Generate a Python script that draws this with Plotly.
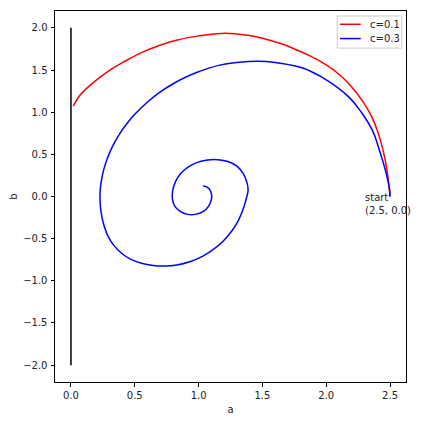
import plotly.graph_objects as go

# trajectories (a, b), starting at (2.5, 0)
red_a = [2.5, 2.492, 2.474, 2.445, 2.403, 2.355, 2.29, 2.2, 2.1, 2.0, 1.869, 1.75,
         1.66, 1.5, 1.4, 1.3, 1.18, 1.0, 0.826, 0.7, 0.565, 0.43, 0.305, 0.2,
         0.123, 0.07, 0.018]
red_b = [0.0, 0.12, 0.33, 0.55, 0.77, 0.95, 1.12, 1.30, 1.45, 1.56, 1.67, 1.75,
         1.805, 1.878, 1.91, 1.928, 1.934, 1.905, 1.854, 1.795, 1.716, 1.61, 1.499,
         1.38, 1.282, 1.20, 1.072]

blue_a = [2.5, 2.497, 2.463, 2.416, 2.36, 2.27, 2.17, 2.025, 1.869, 1.79, 1.6,
          1.47, 1.3, 1.165, 1.0, 0.905, 0.8, 0.7, 0.6, 0.5, 0.448, 0.39, 0.344,
          0.305, 0.272, 0.245, 0.23, 0.227, 0.231, 0.242, 0.262, 0.292, 0.336,
          0.396, 0.47, 0.553, 0.645, 0.735, 0.83, 0.93, 1.03, 1.113, 1.19, 1.26,
          1.31, 1.35, 1.378, 1.388, 1.378, 1.35, 1.30, 1.23, 1.15, 1.07, 0.99,
          0.92, 0.862, 0.82, 0.797, 0.795, 0.812, 0.855, 0.915, 0.975, 1.035,
          1.08, 1.102, 1.095, 1.07, 1.035]
blue_b = [0.0, 0.08, 0.314, 0.551, 0.79, 1.01, 1.19, 1.36, 1.491, 1.535, 1.59,
          1.605, 1.59, 1.558, 1.48, 1.42, 1.337, 1.24, 1.121, 0.975, 0.884, 0.763,
          0.647, 0.526, 0.396, 0.243, 0.09, 0.0, -0.12, -0.239, -0.36, -0.476,
          -0.58, -0.673, -0.745, -0.791, -0.817, -0.825, -0.812, -0.774, -0.71,
          -0.631, -0.533, -0.41, -0.289, -0.146, 0.0, 0.08, 0.17, 0.27, 0.36,
          0.415, 0.437, 0.433, 0.405, 0.35, 0.275, 0.18, 0.07, -0.03, -0.11,
          -0.175, -0.212, -0.212, -0.18, -0.11, -0.02, 0.06, 0.108, 0.124]

wall_a = [0, 0]
wall_b = [-2, 2]

ticks_x = [0.0, 0.5, 1.0, 1.5, 2.0, 2.5]
ticks_y = [-2.0, -1.5, -1.0, -0.5, 0.0, 0.5, 1.0, 1.5, 2.0]

labels = ['c=0.1', 'c=0.3']
colors = ['#ff0000', '#0000ff']

fig = go.Figure()
fig.add_scatter(x=red_a, y=red_b, mode='lines', name=labels[0], showlegend=False,
                line=dict(color=colors[0], width=1.5, shape='spline', smoothing=1.3))
fig.add_scatter(x=blue_a, y=blue_b, mode='lines', name=labels[1], showlegend=False,
                line=dict(color=colors[1], width=1.5, shape='spline', smoothing=1.3))
fig.add_scatter(x=wall_a, y=wall_b, mode='lines', showlegend=False,
                line=dict(color='black', width=1.5))

fig.add_annotation(x=2.29, y=-0.083, text='start<br>(2.5, 0.0)', showarrow=False,
                   xanchor='left', yanchor='middle', align='left',
                   font=dict(size=10, color='#222222'))

# legend box, matplotlib style
fig.add_shape(type='rect', xref='paper', yref='paper', x0=0.804, x1=0.988,
              y0=0.900, y1=0.9865, line=dict(color='#cccccc', width=1),
              fillcolor='rgba(255,255,255,0.8)')
for i, yy in enumerate([0.9642, 0.9257]):
    fig.add_shape(type='line', xref='paper', yref='paper', x0=0.812, x1=0.871,
                  y0=yy, y1=yy, line=dict(color=colors[i], width=1.5))
    fig.add_annotation(xref='paper', yref='paper', x=0.8917, y=yy, text=labels[i],
                       showarrow=False, xanchor='left', yanchor='middle',
                       font=dict(size=10, color='#222222'))

axis_style = dict(showline=True, mirror=True, linecolor='black', linewidth=1,
                  ticks='outside', ticklen=3.5, tickwidth=0.8, tickcolor='black',
                  showgrid=False, zeroline=False, tickformat='.1f',
                  tickfont=dict(size=10, color='#222222'))

fig.update_xaxes(range=[-0.125, 2.625], tickvals=ticks_x,
                 title=dict(text='a', font=dict(size=10), standoff=6), **axis_style)
fig.update_yaxes(range=[-2.2, 2.2], tickvals=ticks_y, ticklabelstandoff=1,
                 title=dict(text='b', font=dict(size=10), standoff=6), **axis_style)

# page body has an 8px margin, so shift the margins to compensate
fig.update_layout(width=423, height=423,
                  margin=dict(l=47, r=25, t=3, b=49),
                  plot_bgcolor='white', paper_bgcolor='white',
                  font=dict(family='DejaVu Sans', size=10, color='#222222'),
                  showlegend=False)

fig.write_html("out.html")
